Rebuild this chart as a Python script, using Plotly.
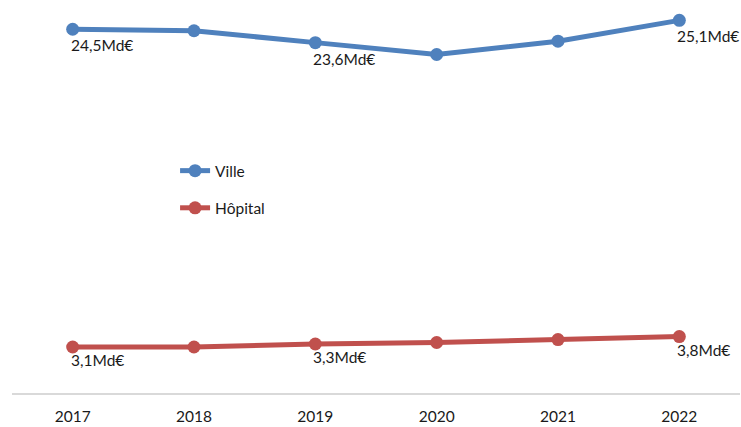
import plotly.graph_objects as go

years = ["2017", "2018", "2019", "2020", "2021", "2022"]
ville = [24.5, 24.4, 23.6, 22.8, 23.7, 25.1]
hopital = [3.1, 3.1, 3.3, 3.4, 3.6, 3.8]
labelled = [True, False, True, False, False, True]

FONT = "Lato"
TXT = "#1a1a1a"

def fmt(v):
    return f"{v:.1f}".replace(".", ",") + "Md€"

fig = go.Figure()
for name, vals, color, grp, dy in [("Ville", ville, "#4F81BD", "a", -16),
                                   ("Hôpital", hopital, "#C0504D", "b", -13)]:
    fig.add_trace(go.Scatter(
        x=years, y=vals, name=name, mode="lines+markers",
        line=dict(color=color, width=5), marker=dict(size=13, color=color),
        legendgroup=grp, cliponaxis=False))
    for i, (v, show) in enumerate(zip(vals, labelled)):
        if show:
            fig.add_annotation(x=i, y=v, text=fmt(v), showarrow=False,
                               xanchor="left", yanchor="middle",
                               xshift=-4, yshift=dy,
                               font=dict(family=FONT, size=15.5, color=TXT))

fig.update_layout(
    width=741, height=427,
    margin=dict(l=12, r=1, t=7, b=34),
    paper_bgcolor="white", plot_bgcolor="white",
    font=dict(family=FONT, size=15.5, color=TXT),
    showlegend=True,
    legend=dict(x=0.224, y=0.619, xanchor="left", yanchor="top",
                font=dict(family=FONT, size=15.5, color=TXT),
                tracegroupgap=14, bgcolor="rgba(0,0,0,0)"),
    xaxis=dict(type="category", range=[-0.5, 5.5], showgrid=False,
               showline=True, linecolor="#D9D9D9", linewidth=2,
               ticks="", ticklabelstandoff=8, automargin=False,
               tickfont=dict(family=FONT, size=15.5, color=TXT)),
    yaxis=dict(range=[0, 26], showgrid=False, showticklabels=False,
               zeroline=False, showline=False, ticks="", automargin=False),
)
fig.write_html("out.html", config={"displayModeBar": False},
               post_script="document.body.style.margin='0';")
